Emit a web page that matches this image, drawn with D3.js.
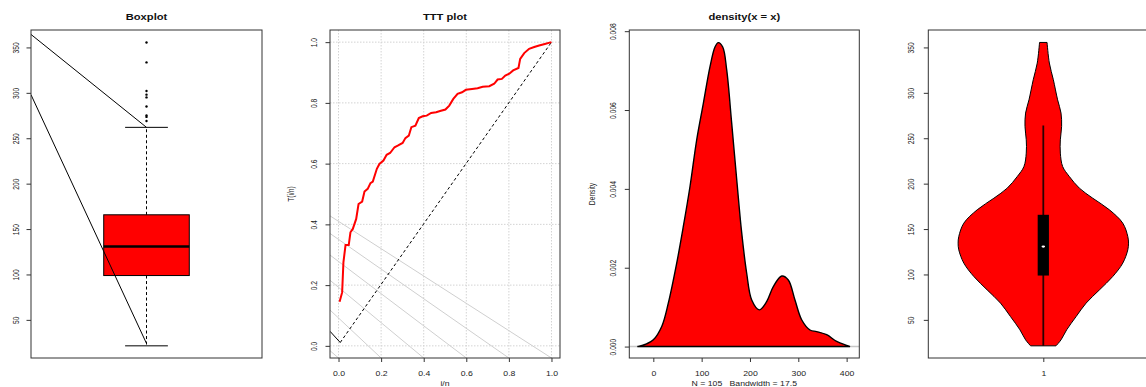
<!DOCTYPE html>
<html>
<head>
<meta charset="utf-8">
<script src="https://cdn.jsdelivr.net/npm/d3@7"></script>
<style>
  body { margin: 0; background: #fff; }
  svg { display: block; }
  text { font-family: "Liberation Sans", Arial, sans-serif; }
</style>
</head>
<body>
<svg id="chart" width="1146" height="387"></svg>
<script>
// ---- boxplot ----
var boxStats = [21.4, 98.8, 130.7, 165.7, 262];   // min, q1, median, q3, upper whisker
var outliers = [355.5, 333.5, 302, 298, 295, 285, 275, 273.5, 269];
var guideFrom = [364.3, 297.9];   // lines entering from the left edge
var guideTo = [262, 24];
var valueTicks = [50, 100, 150, 200, 250, 300, 350];

// ---- TTT plot ----
var tttU = [0.005,0.017,0.023,0.033,0.048,0.056,0.067,0.083,0.094,0.111,0.122,0.137,0.15,0.161,0.18,0.192,0.211,0.226,0.242,0.263,0.278,0.301,0.314,0.33,0.342,0.361,0.377,0.395,0.414,0.435,0.458,0.481,0.502,0.52,0.539,0.559,0.58,0.598,0.627,0.653,0.677,0.708,0.731,0.747,0.767,0.783,0.802,0.82,0.845,0.853,0.872,0.895,0.919,0.942,0.973,1.0];
var tttT = [0.145,0.176,0.275,0.332,0.332,0.374,0.385,0.418,0.467,0.475,0.508,0.517,0.536,0.541,0.583,0.599,0.61,0.629,0.635,0.654,0.659,0.668,0.684,0.692,0.72,0.725,0.75,0.756,0.758,0.767,0.769,0.774,0.778,0.791,0.813,0.83,0.835,0.843,0.846,0.848,0.853,0.855,0.863,0.877,0.879,0.89,0.896,0.907,0.915,0.945,0.964,0.978,0.984,0.989,0.995,1.0];
var fanStart = [0.428, 0.370, 0.299, 0.216, 0.118, -0.016];  // y at left edge
var fanEnd = [1.0, 0.8, 0.6, 0.4, 0.2, 0.0];                  // x at bottom edge
var unitTicks = [0, 0.2, 0.4, 0.6, 0.8, 1.0];

// ---- density ----
var densX = [-33,-14,0,17.4,31,48.3,62,75.9,89.7,103.5,117.3,127.6,134.5,143.6,151.9,162.2,172.6,183,193.2,203.6,219.3,234.5,248.3,265.7,279.3,293.1,306.9,324.2,338,358.7,379.4,400,407];
var densY = [0,0.00007,0.00017,0.00051,0.0011,0.00211,0.00304,0.00406,0.00524,0.00617,0.0071,0.0076,0.00771,0.0076,0.00701,0.00566,0.00423,0.00287,0.00186,0.00118,0.00093,0.00114,0.00152,0.00179,0.00169,0.00118,0.00068,0.00042,0.00038,0.0003,0.00013,0.00003,0];
var densXTicks = [0, 100, 200, 300, 400];
var densYTicks = [0, 0.002, 0.004, 0.006, 0.008];

// ---- violin ----
var vioLevel = [21.4,28,39,53.6,68.4,83,97.7,112.5,127.1,134.5,141.8,156.5,171.2,184,195,207.8,218.9,233.6,248.3,263,277.7,292.3,314.4,332.8,355.5];
var vioWidth = [0.149,0.208,0.274,0.385,0.502,0.659,0.815,0.933,0.992,1.0,0.992,0.933,0.776,0.58,0.424,0.306,0.227,0.2,0.2,0.215,0.208,0.168,0.118,0.071,0.044];
var vioStats = [21.4, 98.8, 130.7, 165.7, 264];

var svg = d3.select("#chart");
var TOP = 30, HGT = 328, WID = 230, SX = 1.3;
var FS = 6.7, TEXT = "#222";

function label(g, x, y, s, size, rotate, bold) {
  var t = g.append("text")
    .attr("transform", "translate(" + x + "," + y + ") scale(" + SX + ",1)" + (rotate ? " rotate(-90)" : ""))
    .attr("text-anchor", "middle")
    .attr("font-size", size)
    .attr("fill", bold ? "#111" : TEXT)
    .style("white-space", "pre")
    .text(s);
  if (bold) t.attr("font-weight", "bold");
  return t;
}

function panel(id, left, width, xDom, yDom) {
  var x = d3.scaleLinear().domain(xDom).range([left, left + width]);
  var y = d3.scaleLinear().domain(yDom).range([TOP + HGT, TOP]);
  svg.append("clipPath").attr("id", id).append("rect")
    .attr("x", left).attr("y", TOP).attr("width", width).attr("height", HGT);
  var g = svg.append("g");
  var inner = g.append("g").attr("clip-path", "url(#" + id + ")");
  return { x: x, y: y, g: g, inner: inner, left: left, width: width };
}

function frame(p) {
  p.g.append("rect").attr("x", p.left).attr("y", TOP).attr("width", p.width).attr("height", HGT)
    .attr("fill", "none").attr("stroke", "#333").attr("stroke-width", 1);
}

function yAxis(p, ticks, fmt, off) {
  var a = p.g.append("g").attr("transform", "translate(" + p.left + ",0)").attr("color", "#333")
    .call(d3.axisLeft(p.y).tickValues(ticks).tickFormat(fmt).tickSize(4.5).tickSizeOuter(0));
  a.select(".domain").remove();
  a.selectAll(".tick text").attr("x", null).attr("dy", null)
    .attr("text-anchor", "middle").attr("font-size", FS).attr("fill", TEXT)
    .attr("font-family", "Liberation Sans, Arial, sans-serif")
    .attr("transform", "translate(" + (-off) + ",0) scale(" + SX + ",1) rotate(-90)");
  a.attr("font-size", null).attr("font-family", null);
}

function xAxis(p, ticks, fmt) {
  var a = p.g.append("g").attr("transform", "translate(0," + (TOP + HGT) + ")").attr("color", "#333")
    .call(d3.axisBottom(p.x).tickValues(ticks).tickFormat(fmt).tickSize(4).tickSizeOuter(0));
  a.select(".domain").remove();
  a.selectAll(".tick text").attr("y", null).attr("dy", null)
    .attr("font-size", FS).attr("fill", TEXT)
    .attr("font-family", "Liberation Sans, Arial, sans-serif")
    .attr("transform", "translate(0,18) scale(" + SX + ",1)");
  a.attr("font-size", null).attr("font-family", null);
}

// ================= Boxplot =================
var p1 = panel("c1", 31, 231, [0.46, 1.54], [8.0, 369.2]);
(function () {
  var x = p1.x, y = p1.y, g = p1.inner;
  g.append("line").attr("x1", x(1)).attr("x2", x(1)).attr("y1", y(boxStats[3])).attr("y2", y(boxStats[4]))
    .attr("stroke", "#000").attr("stroke-dasharray", "3,2.5");
  g.append("line").attr("x1", x(1)).attr("x2", x(1)).attr("y1", y(boxStats[1])).attr("y2", y(boxStats[0]))
    .attr("stroke", "#000").attr("stroke-dasharray", "3,2.5");
  [boxStats[0], boxStats[4]].forEach(function (v) {
    g.append("line").attr("x1", x(0.9)).attr("x2", x(1.1)).attr("y1", y(v)).attr("y2", y(v))
      .attr("stroke", "#000");
  });
  g.append("rect").attr("x", x(0.8)).attr("width", x(1.2) - x(0.8))
    .attr("y", y(boxStats[3])).attr("height", y(boxStats[1]) - y(boxStats[3]))
    .attr("fill", "#ff0000").attr("stroke", "#000");
  g.append("line").attr("x1", x(0.8)).attr("x2", x(1.2)).attr("y1", y(boxStats[2])).attr("y2", y(boxStats[2]))
    .attr("stroke", "#000").attr("stroke-width", 2.5);
  g.selectAll(".out").data(outliers).enter().append("circle")
    .attr("cx", x(1)).attr("cy", function (d) { return y(d); }).attr("r", 1.2).attr("fill", "#000");
  guideFrom.forEach(function (v, i) {
    g.append("line").attr("x1", x(0.46)).attr("y1", y(v)).attr("x2", x(1)).attr("y2", y(guideTo[i]))
      .attr("stroke", "#000").attr("stroke-width", 1);
  });
  frame(p1);
  yAxis(p1, valueTicks, d3.format("d"), 12.5);
  label(p1.g, 146.5, 19.7, "Boxplot", 8.6, false, true);
})();

// ================= TTT plot =================
var p2 = panel("c2", 330, WID, [-0.04, 1.04], [-0.04, 1.04]);
(function () {
  var x = p2.x, y = p2.y, g = p2.inner;
  unitTicks.forEach(function (t) {
    g.append("line").attr("x1", x(t)).attr("x2", x(t)).attr("y1", TOP).attr("y2", TOP + HGT)
      .attr("stroke", "#d3d3d3").attr("stroke-dasharray", "1.5,1.5");
    g.append("line").attr("x1", p2.left).attr("x2", p2.left + WID).attr("y1", y(t)).attr("y2", y(t))
      .attr("stroke", "#d3d3d3").attr("stroke-dasharray", "1.5,1.5");
  });
  fanStart.forEach(function (v, i) {
    g.append("line").attr("x1", x(-0.04)).attr("y1", y(v)).attr("x2", x(fanEnd[i])).attr("y2", y(-0.04))
      .attr("stroke", "#cfcfcf").attr("stroke-width", 1);
  });
  g.append("line").attr("x1", x(-0.04)).attr("y1", y(0.048)).attr("x2", x(0.008)).attr("y2", y(0.011))
    .attr("stroke", "#000");
  g.append("line").attr("x1", x(0.008)).attr("y1", y(0.011)).attr("x2", x(1)).attr("y2", y(1))
    .attr("stroke", "#000").attr("stroke-dasharray", "3,2.5");
  var pts = tttU.map(function (u, i) { return [u, tttT[i]]; });
  g.append("path").datum(pts)
    .attr("d", d3.line().x(function (d) { return x(d[0]); }).y(function (d) { return y(d[1]); }))
    .attr("fill", "none").attr("stroke", "#ff0000").attr("stroke-width", 2);
  frame(p2);
  yAxis(p2, unitTicks, d3.format(".1f"), 13);
  xAxis(p2, unitTicks, d3.format(".1f"));
  label(p2.g, 445, 19.7, "TTT plot", 8.6, false, true);
  label(p2.g, 294, 194, "T(i/n)", FS, true, false);
  label(p2.g, 445, 385.5, "i/n", FS, false, false);
})();

// ================= density =================
var p3 = panel("c3", 629.3, WID, [-49.7, 426.2], [-0.00029, 0.00803]);
(function () {
  var x = p3.x, y = p3.y, g = p3.inner;
  g.append("line").attr("x1", p3.left).attr("x2", p3.left + WID).attr("y1", y(0)).attr("y2", y(0))
    .attr("stroke", "#c8c8c8").attr("stroke-width", 1.5);
  var pts = densX.map(function (v, i) { return [v, densY[i]]; });
  g.append("path").datum(pts)
    .attr("d", d3.area().curve(d3.curveCatmullRom)
      .x(function (d) { return x(d[0]); }).y0(y(0)).y1(function (d) { return y(d[1]); }))
    .attr("fill", "#ff0000").attr("stroke", "#000").attr("stroke-width", 1.4);
  frame(p3);
  yAxis(p3, densYTicks, d3.format(".3f"), 13);
  xAxis(p3, densXTicks, d3.format("d"));
  label(p3.g, 744.3, 19.7, "density(x = x)", 8.6, false, true);
  label(p3.g, 594.5, 194, "Density", FS, true, false);
  label(p3.g, 744.3, 385.5, "N = 105   Bandwidth = 17.5", FS, false, false);
})();

// ================= violin =================
var p4 = panel("c4", 928.3, WID, [0.46, 1.54], [8.0, 369.2]);
(function () {
  var x = p4.x, y = p4.y, g = p4.inner;
  var half = d3.scaleLinear().domain([0, 1]).range([0, 0.4]);
  var pts = vioLevel.map(function (v, i) { return [v, vioWidth[i]]; });
  g.append("path").datum(pts)
    .attr("d", d3.area().curve(d3.curveCatmullRom)
      .y(function (d) { return y(d[0]); })
      .x0(function (d) { return x(1 - half(d[1])); })
      .x1(function (d) { return x(1 + half(d[1])); }))
    .attr("fill", "#ff0000").attr("stroke", "#000").attr("stroke-width", 1);
  g.append("line").attr("x1", x(1)).attr("x2", x(1)).attr("y1", y(vioStats[0])).attr("y2", y(vioStats[4]))
    .attr("stroke", "#2a0000").attr("stroke-width", 1.8);
  g.append("rect").attr("x", x(0.9736)).attr("width", x(1.0264) - x(0.9736))
    .attr("y", y(vioStats[3])).attr("height", y(vioStats[1]) - y(vioStats[3]))
    .attr("fill", "#000");
  g.append("ellipse").attr("cx", x(1)).attr("cy", y(vioStats[2])).attr("rx", 1.8).attr("ry", 1.1)
    .attr("fill", "#fff");
  frame(p4);
  yAxis(p4, valueTicks, d3.format("d"), 14);
  xAxis(p4, [1], d3.format("d"));
})();
</script>
</body>
</html>
